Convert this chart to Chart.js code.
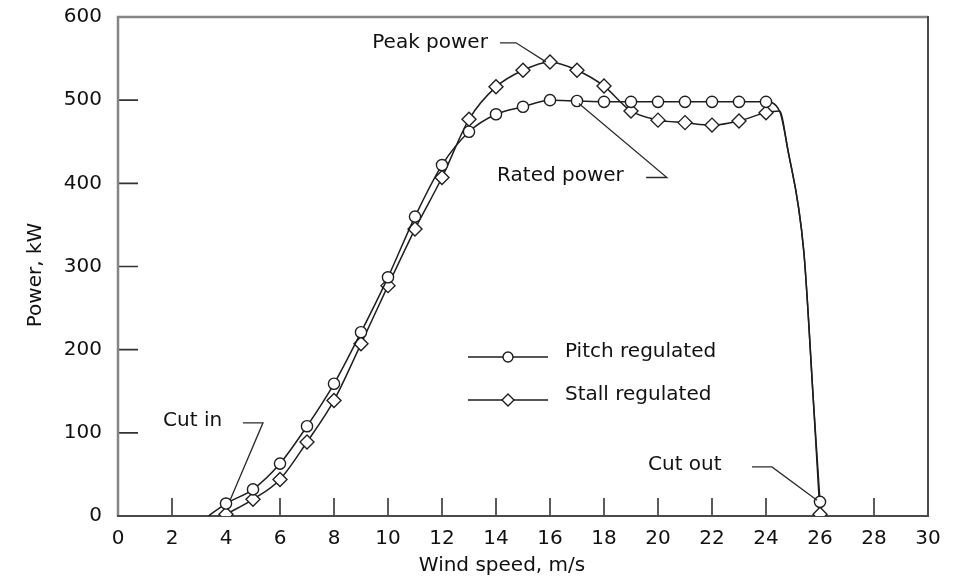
<!DOCTYPE html>
<html>
<head>
<meta charset="utf-8">
<title>Wind turbine power curves</title>
<script src="https://cdn.jsdelivr.net/npm/chart.js@4/dist/chart.umd.min.js"></script>
<style>
  html, body { margin: 0; padding: 0; background: #ffffff; }
  #wrap { width: 958px; height: 580px; position: relative; }
</style>
</head>
<body>
<div id="wrap"><canvas id="powerChart"></canvas></div>
<script>
// Wind speed (m/s) and power (kW) for the two turbine types.
// Points at fractional speeds shape the curve only and carry no marker.
const pitchSpeed = [3.35, 4, 5, 6, 7, 8, 9, 10, 11, 12, 13, 14, 15, 16, 17, 18, 19, 20, 21, 22, 23, 24, 24.5, 24.8, 25.4, 25.75, 26];
const pitchPower = [0, 15, 32, 63, 108, 159, 221, 287, 360, 422, 462, 483, 492, 500, 499, 498, 498, 498, 498, 498, 498, 498, 487, 442, 318, 141, 17];

const stallSpeed = [4, 5, 6, 7, 8, 9, 10, 11, 12, 13, 14, 15, 16, 17, 18, 19, 20, 21, 22, 23, 24, 24.5, 24.8, 25.4, 25.75, 26];
const stallPower = [2, 20, 44, 89, 139, 207, 277, 345, 407, 477, 516, 536, 546, 536, 517, 487, 476, 473, 470, 475, 485, 487, 442, 318, 141, 2];

const seriesNames = ['Pitch regulated', 'Stall regulated'];

const xTickValues = [0, 2, 4, 6, 8, 10, 12, 14, 16, 18, 20, 22, 24, 26, 28, 30];
const yTickValues = [0, 100, 200, 300, 400, 500, 600];

const xTitle = 'Wind speed, m/s';
const yTitle = 'Power, kW';

// Callout notes, anchored in data units (wind speed, kW)
const callouts = [
  { text: 'Peak power',  at: [13.70, 569], align: 'right', path: [[14.15, 569], [14.74, 569], [15.85, 546]] },
  { text: 'Rated power', at: [14.04, 409], align: 'left',  path: [[19.56, 407], [20.33, 407], [17.07, 496]] },
  { text: 'Cut in',      at: [1.67, 115],  align: 'left',  path: [[4.63, 112], [5.37, 112], [4.15, 19]] },
  { text: 'Cut out',     at: [19.63, 62],  align: 'left',  path: [[23.48, 59], [24.22, 59], [25.89, 19]] }
];

const FONT = '"DejaVu Sans", "Liberation Sans", Arial, sans-serif';
const INK = '#111111';

Chart.defaults.font.family = FONT;
Chart.defaults.font.size = 20;
Chart.defaults.color = INK;

const toPoints = (xs, ys) => xs.map((x, i) => ({ x: x, y: ys[i] }));
const markerRadius = (r) => (ctx) => (ctx.raw && Number.isInteger(ctx.raw.x) ? r : 0);

// Frame and inward-pointing tick marks
const frameAndTicks = {
  id: 'frameAndTicks',
  beforeDatasetsDraw(chart) {
    const { ctx, chartArea: a, scales: { x, y } } = chart;
    ctx.save();
    ctx.lineCap = 'butt';
    ctx.strokeStyle = '#333333';
    ctx.lineWidth = 1.6;
    ctx.beginPath();
    x.ticks.forEach(t => {
      if (t.value > x.min && t.value < x.max) {
        const px = x.getPixelForValue(t.value);
        ctx.moveTo(px, a.bottom);
        ctx.lineTo(px, a.bottom - 18);
      }
    });
    y.ticks.forEach(t => {
      if (t.value > y.min && t.value < y.max) {
        const py = y.getPixelForValue(t.value);
        ctx.moveTo(a.left, py);
        ctx.lineTo(a.left + 20, py);
      }
    });
    ctx.stroke();

    // left and top edges are lighter than bottom and right
    ctx.strokeStyle = '#858585';
    ctx.lineWidth = 2.5;
    ctx.beginPath();
    ctx.moveTo(a.left, a.bottom);
    ctx.lineTo(a.left, a.top);
    ctx.lineTo(a.right, a.top);
    ctx.stroke();
    ctx.strokeStyle = '#4a4a4a';
    ctx.lineWidth = 2;
    ctx.beginPath();
    ctx.moveTo(a.right, a.top - 1);
    ctx.lineTo(a.right, a.bottom);
    ctx.lineTo(a.left - 1, a.bottom);
    ctx.stroke();
    ctx.restore();
  }
};

// Callout text with leader lines, key box and axis titles
const notes = {
  id: 'notes',
  afterDatasetsDraw(chart) {
    const { ctx, scales: { x, y } } = chart;
    ctx.save();
    ctx.font = '20px ' + FONT;
    ctx.fillStyle = INK;
    ctx.textBaseline = 'middle';

    callouts.forEach(c => {
      ctx.textAlign = c.align;
      ctx.fillText(c.text, x.getPixelForValue(c.at[0]), y.getPixelForValue(c.at[1]));
      ctx.strokeStyle = '#2a2a2a';
      ctx.lineWidth = 1.3;
      ctx.beginPath();
      c.path.forEach((p, i) => {
        const px = x.getPixelForValue(p[0]);
        const py = y.getPixelForValue(p[1]);
        if (i === 0) ctx.moveTo(px, py); else ctx.lineTo(px, py);
      });
      ctx.stroke();
    });

    // key: sample line with marker, then the series name
    const key = { left: 468, lineLen: 80, textGap: 17, rows: [352, 395], drop: 5 };
    chart.data.datasets.forEach((ds, i) => {
      const ty = key.rows[i];
      const ly = ty + key.drop;
      ctx.strokeStyle = ds.borderColor;
      ctx.lineWidth = ds.borderWidth;
      ctx.beginPath();
      ctx.moveTo(key.left, ly);
      ctx.lineTo(key.left + key.lineLen, ly);
      ctx.stroke();
      ctx.fillStyle = '#ffffff';
      ctx.strokeStyle = ds.pointBorderColor;
      ctx.lineWidth = ds.pointBorderWidth;
      Chart.helpers.drawPoint(ctx, { pointStyle: ds.pointStyle, radius: ds.keyRadius, borderWidth: ds.pointBorderWidth, rotation: 0 }, key.left + key.lineLen / 2, ly);
      ctx.fillStyle = INK;
      ctx.textAlign = 'left';
      ctx.fillText(ds.label, key.left + key.lineLen + key.textGap, ty);
    });

    // axis titles
    ctx.textAlign = 'center';
    ctx.fillText(xTitle, 502, 566);
    ctx.translate(36, 275);
    ctx.rotate(-Math.PI / 2);
    ctx.fillText(yTitle, 0, 0);
    ctx.restore();
  }
};

new Chart(document.getElementById('powerChart'), {
  type: 'line',
  data: {
    datasets: [
      {
        label: seriesNames[0],
        data: toPoints(pitchSpeed, pitchPower),
        borderColor: '#1e1e1e',
        borderWidth: 1.5,
        pointStyle: 'circle',
        pointRadius: markerRadius(5.6),
        keyRadius: 5,
        pointBackgroundColor: '#ffffff',
        pointBorderColor: '#1e1e1e',
        pointBorderWidth: 1.4,
        cubicInterpolationMode: 'monotone',
        fill: false
      },
      {
        label: seriesNames[1],
        data: toPoints(stallSpeed, stallPower),
        borderColor: '#1e1e1e',
        borderWidth: 1.5,
        pointStyle: 'rectRot',
        pointRadius: markerRadius(7),
        keyRadius: 6,
        pointBackgroundColor: '#ffffff',
        pointBorderColor: '#1e1e1e',
        pointBorderWidth: 1.4,
        cubicInterpolationMode: 'monotone',
        fill: false
      }
    ]
  },
  options: {
    responsive: true,
    maintainAspectRatio: false,
    animation: false,
    events: [],
    layout: { padding: { top: 17, right: 30, left: 0, bottom: 0 } },
    plugins: {
      legend: { display: false },
      tooltip: { enabled: false }
    },
    scales: {
      x: {
        type: 'linear',
        min: 0,
        max: 30,
        afterBuildTicks: s => { s.ticks = xTickValues.map(v => ({ value: v })); },
        afterFit: s => { s.height = 64; s.paddingLeft = 0; s.paddingRight = 0; },
        grid: { display: false, drawTicks: false },
        border: { display: false },
        ticks: { padding: 11, color: INK, font: { size: 20 } }
      },
      y: {
        type: 'linear',
        min: 0,
        max: 600,
        afterBuildTicks: s => { s.ticks = yTickValues.map(v => ({ value: v })); },
        afterFit: s => { s.width = 118; s.paddingTop = 0; s.paddingBottom = 0; },
        grid: { display: false, drawTicks: false },
        border: { display: false },
        ticks: { padding: 16, color: INK, font: { size: 20 } }
      }
    }
  },
  plugins: [frameAndTicks, notes]
});
</script>
</body>
</html>
